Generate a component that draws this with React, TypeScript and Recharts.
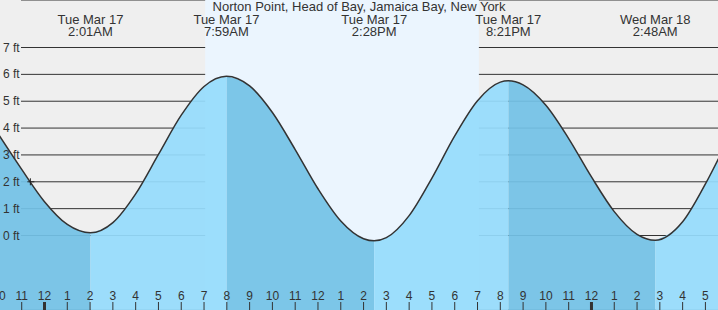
import React from 'react';
import {
  ComposedChart,
  Area,
  Line,
  XAxis,
  YAxis,
  CartesianGrid,
  ReferenceArea,
  ReferenceDot,
} from 'recharts';

// ---- data (hours from midnight Tue Mar 17, heights in ft) ----
const TIMES = [
  -2, -1, 0, 1, 2.017, 3, 4, 5, 6, 7, 7.983, 9, 10, 11, 12, 13, 14, 14.467, 15, 16, 17, 18, 19, 20,
  20.35, 21, 22, 23, 24, 25, 26, 26.8, 28, 29, 30,
];
const HEIGHTS = [
  3.74, 2.46, 1.26, 0.41, 0.1, 0.48, 1.55, 3.02, 4.48, 5.55, 5.93, 5.57, 4.58, 3.2, 1.74, 0.54, -0.12,
  -0.2, -0.08, 0.74, 2.14, 3.71, 5.02, 5.71, 5.76, 5.61, 4.85, 3.61, 2.18, 0.89, 0.04, -0.18, 0.51,
  1.92, 3.6,
];

const EXTREME_TIMES = [2.017, 7.983, 14.467, 20.35, 26.8];
const EXTREME_TYPES = ['low', 'high', 'low', 'high', 'low'];
const EXTREME_DAYS = ['Tue Mar 17', 'Tue Mar 17', 'Tue Mar 17', 'Tue Mar 17', 'Wed Mar 18'];
const EXTREME_CLOCK = ['2:01AM', '7:59AM', '2:28PM', '8:21PM', '2:48AM'];

const SUNRISE = 7.05;
const SUNSET = 19.06;

const NOW_T = -0.62;
const NOW_H = 2.0;

const HOUR_TICKS = [
  -2, -1, 0, 1, 2, 3, 4, 5, 6, 7, 8, 9, 10, 11, 12, 13, 14, 15, 16, 17, 18, 19, 20, 21, 22, 23, 24,
  25, 26, 27, 28, 29,
];
const FT_TICKS = [0, 1, 2, 3, 4, 5, 6, 7];

const TITLE = 'Norton Point, Head of Bay, Jamaica Bay, New York';

// ---- layout / style ----
const W = 718;
const H = 310;
const T_MIN = -1.9526;
const T_MAX = 29.552;
const Y_MIN = -2.774;
const Y_MAX = 8.769;
const FONT = '"Liberation Sans", Arial, sans-serif';
const TEXT = '#333';
const BG = '#efefef';
const DAY = '#ebf5fe';
const FALL = '#73c2e6';
const RISE = '#96dcfc';

const rows = TIMES.map((t, i) => {
  const h = HEIGHTS[i];
  const nextIdx = EXTREME_TIMES.findIndex((e) => e > t + 1e-9);
  const lastType = EXTREME_TYPES[EXTREME_TYPES.length - 1];
  const nextType = nextIdx >= 0 ? EXTREME_TYPES[nextIdx] : lastType === 'low' ? 'high' : 'low';
  const extIdx = EXTREME_TIMES.findIndex((e) => Math.abs(e - t) < 1e-9);
  const extType = extIdx >= 0 ? EXTREME_TYPES[extIdx] : null;
  const fall = nextType === 'low' || extType === 'low';
  const rise = nextType === 'high' || extType === 'high';
  return { t, h, fall: fall ? h : null, rise: rise ? h : null };
});

const hourLabel = (t: number) => {
  const hr = ((t % 24) + 24) % 24;
  const h12 = hr % 12;
  return String(h12 === 0 ? 12 : h12);
};

const HourTick = (props: any) => {
  const { x, payload } = props;
  const t = payload.value as number;
  const midnight = ((t % 24) + 24) % 24 === 0;
  return (
    <g>
      {midnight ? (
        <rect x={x - 1.5} y={H - 8} width={3} height={8} fill={TEXT} />
      ) : (
        <line x1={x} x2={x} y1={H - 8} y2={H} stroke={TEXT} strokeWidth={1} />
      )}
      <text x={x} y={H - 10} textAnchor="middle" fontFamily={FONT} fontSize={12} fill={TEXT}>
        {hourLabel(t)}
      </text>
    </g>
  );
};

const FtTick = (props: any) => {
  const { y, payload } = props;
  return (
    <text x={3} y={y} dy={4} textAnchor="start" fontFamily={FONT} fontSize={12} fill={TEXT}>
      {`${payload.value} ft`}
    </text>
  );
};

const makeExtremeShape = (i: number) => (props: any) => {
  const { cx } = props;
  return (
    <text x={cx} textAnchor="middle" fontFamily={FONT} fontSize={13} fill={TEXT}>
      <tspan x={cx} y={24}>
        {EXTREME_DAYS[i]}
      </tspan>
      <tspan x={cx} y={36}>
        {EXTREME_CLOCK[i]}
      </tspan>
    </text>
  );
};

const CrossShape = (props: any) => {
  const { cx, cy } = props;
  return (
    <g stroke="#222" strokeWidth={1}>
      <line x1={cx - 3} x2={cx + 4} y1={cy} y2={cy} />
      <line x1={cx} x2={cx} y1={cy - 3.5} y2={cy + 3.5} />
    </g>
  );
};

export default function App() {
  return (
    <div style={{ position: 'absolute', left: 0, top: 0, width: W, height: H, background: BG, overflow: 'hidden' }}>
      <ComposedChart width={W} height={H} data={rows} margin={{ top: 0, right: 0, bottom: 0, left: 0 }}>
        <XAxis
          dataKey="t"
          type="number"
          domain={[T_MIN, T_MAX]}
          allowDataOverflow
          ticks={HOUR_TICKS}
          orientation="bottom"
          mirror
          axisLine={false}
          tickLine={false}
          tick={<HourTick />}
          interval={0}
          height={30}
        />
        <YAxis
          type="number"
          domain={[Y_MIN, Y_MAX]}
          allowDataOverflow
          ticks={FT_TICKS}
          orientation="left"
          mirror
          axisLine={false}
          tickLine={false}
          tick={<FtTick />}
          interval={0}
          width={21}
        />
        <ReferenceArea
          x1={SUNRISE}
          x2={SUNSET}
          y1={Y_MIN}
          y2={Y_MAX}
          fill={DAY}
          fillOpacity={1}
          stroke="none"
          ifOverflow="visible"
        />
        <CartesianGrid horizontal vertical={false} x={21} width={W - 21} stroke="#333" strokeDasharray="" />
        <Area
          dataKey="fall"
          type="monotone"
          baseValue="dataMin"
          fill={FALL}
          fillOpacity={0.93}
          stroke="none"
          isAnimationActive={false}
          connectNulls={false}
          dot={false}
          activeDot={false}
        />
        <Area
          dataKey="rise"
          type="monotone"
          baseValue="dataMin"
          fill={RISE}
          fillOpacity={0.93}
          stroke="none"
          isAnimationActive={false}
          connectNulls={false}
          dot={false}
          activeDot={false}
        />
        <Line
          dataKey="h"
          type="monotone"
          stroke="#333"
          strokeWidth={1.5}
          dot={false}
          activeDot={false}
          isAnimationActive={false}
        />
        {EXTREME_TIMES.map((t, i) => (
          <ReferenceDot key={i} x={t} y={Y_MAX} r={0} ifOverflow="visible" shape={makeExtremeShape(i)} />
        ))}
        <ReferenceDot x={NOW_T} y={NOW_H} r={3} ifOverflow="visible" shape={CrossShape} />
      </ComposedChart>
      <div
        style={{
          position: 'absolute',
          left: 0,
          top: 0,
          width: W,
          textAlign: 'center',
          fontFamily: FONT,
          fontSize: 13,
          lineHeight: '14px',
          color: TEXT,
          pointerEvents: 'none',
        }}
      >
        {TITLE}
      </div>
    </div>
  );
}
